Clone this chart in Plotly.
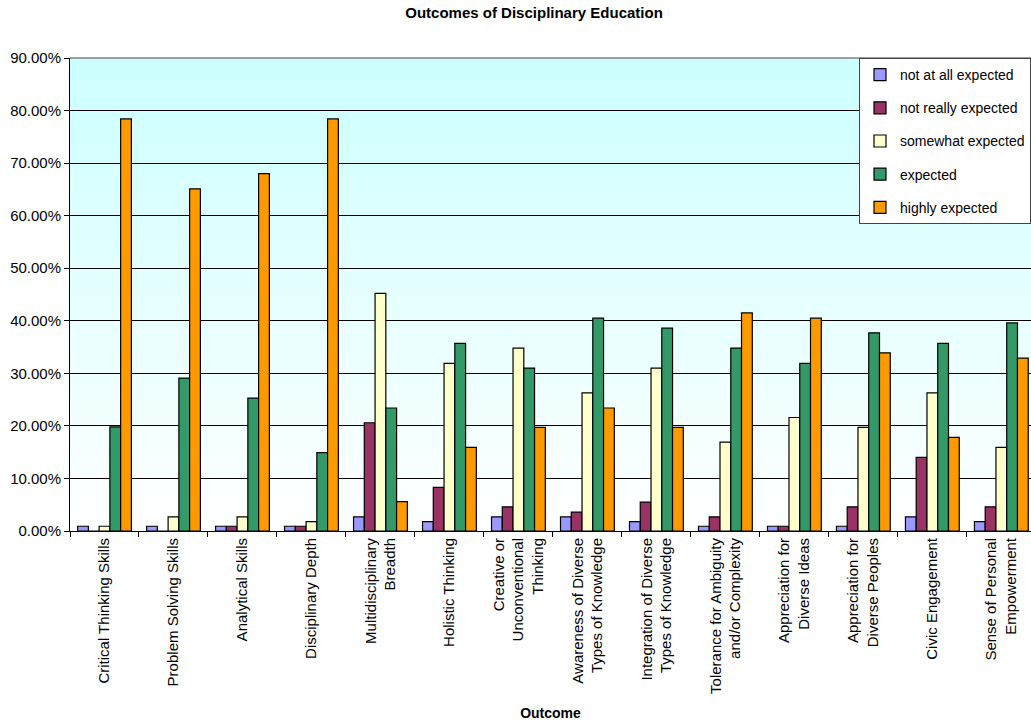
import base64
import plotly.graph_objects as go

# Survey outcomes (percent of respondents)
categories = [
    "Critical Thinking Skills",
    "Problem Solving Skills",
    "Analytical Skills",
    "Disciplinary Depth",
    "Multidisciplinary<br>Breadth",
    "Holistic Thinking",
    "Creative or<br>Unconventional<br>Thinking",
    "Awareness of Diverse<br>Types of Knowledge",
    "Integration of Diverse<br>Types of Knowledge",
    "Tolerance for Ambiguity<br>and/or Complexity",
    "Appreciation for<br>Diverse Ideas",
    "Appreciation for<br>Diverse Peoples",
    "Civic Engagement",
    "Sense of Personal<br>Empowerment",
]

not_at_all = [0.9, 0.9, 0.9, 0.9, 2.7, 1.8, 2.7, 2.7, 1.8, 0.9, 0.9, 0.9, 2.7, 1.8]
not_really = [0.0, 0.0, 0.9, 0.9, 20.6, 8.3, 4.6, 3.6, 5.5, 2.7, 0.9, 4.6, 14.0, 4.6]
somewhat = [0.9, 2.7, 2.7, 1.8, 45.2, 31.9, 34.8, 26.3, 31.0, 16.9, 21.6, 19.7, 26.3, 15.9]
expected = [19.8, 29.1, 25.3, 14.9, 23.4, 35.7, 31.0, 40.5, 38.6, 34.8, 31.9, 37.7, 35.7, 39.6]
highly = [78.4, 65.1, 68.0, 78.4, 5.6, 15.9, 19.7, 23.4, 19.7, 41.5, 40.5, 33.9, 17.8, 32.9]

series = [
    ("not at all expected", not_at_all, "#9999FF"),
    ("not really expected", not_really, "#993366"),
    ("somewhat expected", somewhat, "#FFFFCC"),
    ("expected", expected, "#339966"),
    ("highly expected", highly, "#FF9900"),
]

FONT = "Arial, 'Liberation Sans', sans-serif"

fig = go.Figure()
for name, vals, color in series:
    fig.add_trace(go.Bar(
        name=name,
        x=categories,
        y=[v / 100 for v in vals],
        marker=dict(color=color, line=dict(color="black", width=1.2)),
        legendgroup=name,
    ))

# vertical cyan-to-white gradient behind the plot area
svg = (
    '<svg xmlns="http://www.w3.org/2000/svg" width="100" height="100" preserveAspectRatio="none">'
    '<defs><linearGradient id="g" x1="0" y1="0" x2="0" y2="1">'
    '<stop offset="0" stop-color="#CCFFFF"/><stop offset="1" stop-color="#FFFFFF"/>'
    '</linearGradient></defs><rect width="100" height="100" fill="url(#g)"/></svg>'
)
src = "data:image/svg+xml;base64," + base64.b64encode(svg.encode()).decode()

fig.update_layout(
    width=1031,
    height=728,
    margin=dict(l=70, r=0, t=58, b=197),
    paper_bgcolor="white",
    plot_bgcolor="rgba(0,0,0,0)",
    font=dict(family=FONT, size=14, color="black"),
    barmode="group",
    bargap=0.22,
    bargroupgap=0,
    title=dict(
        text="<b>Outcomes of Disciplinary Education</b>",
        x=0.518, xanchor="center", y=0.982, yanchor="middle",
        font=dict(size=15),
    ),
    images=[dict(
        source=src, xref="x domain", yref="y domain", x=0, y=1,
        sizex=1, sizey=1, xanchor="left", yanchor="top",
        sizing="stretch", layer="below",
    )],
    legend=dict(
        x=1, y=1, xanchor="right", yanchor="top",
        bgcolor="white", bordercolor="#444444", borderwidth=1,
        font=dict(size=14), tracegroupgap=12, itemwidth=30,
    ),
    xaxis=dict(
        title=dict(text="<b>Outcome</b>", font=dict(size=14), standoff=15),
        range=[-0.5, 13.43],
        tickangle=-90,
        tickfont=dict(size=15),
        tickson="boundaries",
        ticks="outside", ticklen=5, tickcolor="black",
        showline=True, linecolor="black", linewidth=1,
        showgrid=False,
    ),
    yaxis=dict(
        range=[0, 0.9],
        dtick=0.1,
        tickformat=".2%",
        tickfont=dict(size=15),
        ticks="outside", ticklen=5, tickcolor="black",
        showline=True, linecolor="black", linewidth=1,
        showgrid=True, gridcolor="black", gridwidth=1,
        zeroline=False,
    ),
    shapes=[dict(
        type="line", xref="paper", yref="paper", x0=0, x1=1, y0=1, y1=1,
        line=dict(color="#808080", width=1.5),
    )],
)

fig.write_html("out.html")
